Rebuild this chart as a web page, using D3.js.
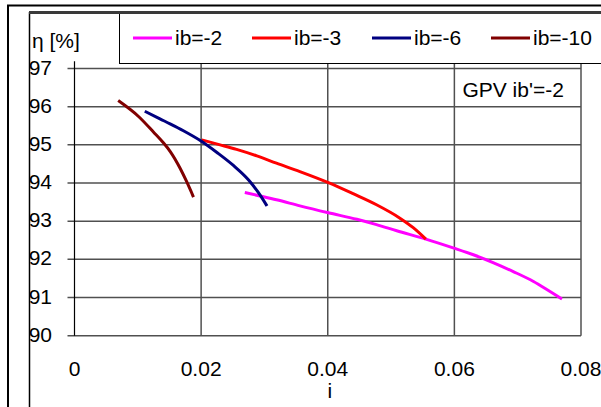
<!DOCTYPE html>
<html>
<head>
<meta charset="utf-8">
<script src="https://cdnjs.cloudflare.com/ajax/libs/d3/7.8.5/d3.min.js"></script>
<style>
  body { margin: 0; background: #fff; }
  svg { display: block; font-family: "Liberation Sans", Arial, sans-serif; }
  .grid line { stroke: #505050; stroke-width: 1.5; }
  .tick-label { font-size: 21px; fill: #000; }
</style>
</head>
<body>
<div id="chart"></div>
<script>
// series data (i, eta %)
var ib2 = [[0.0269, 93.75], [0.0293, 93.66], [0.0319, 93.56], [0.0356, 93.40], [0.0401, 93.22],
  [0.0446, 93.05], [0.0477, 92.91], [0.0509, 92.75], [0.0555, 92.53], [0.0598, 92.30],
  [0.0630, 92.12], [0.0662, 91.91], [0.0693, 91.68], [0.0725, 91.42], [0.0746, 91.21], [0.0770, 90.96]];
var ib3 = [[0.0201, 95.13], [0.0230, 95.00], [0.0256, 94.88], [0.0288, 94.71], [0.0319, 94.52],
  [0.0356, 94.30], [0.0401, 94.01], [0.0440, 93.72], [0.0477, 93.43], [0.0514, 93.08],
  [0.0535, 92.83], [0.0555, 92.53]];
var ib6 = [[0.0111, 95.88], [0.0135, 95.68], [0.0151, 95.55], [0.0172, 95.37], [0.0198, 95.12],
  [0.0225, 94.80], [0.0251, 94.46], [0.0275, 94.08], [0.0290, 93.76], [0.0304, 93.40]];
var ib10 = [[0.0069, 96.16], [0.0102, 95.73], [0.0125, 95.33], [0.0140, 95.06], [0.0151, 94.83],
  [0.0167, 94.38], [0.0177, 94.04], [0.0188, 93.63]];

var seriesNames = ["ib=-2", "ib=-3", "ib=-6", "ib=-10"];
var seriesColors = ["#ff00ff", "#ff0000", "#000080", "#800000"];
var xTicks = [0, 0.02, 0.04, 0.06, 0.08];
var yTicks = [90, 91, 92, 93, 94, 95, 96, 97];
var note = "GPV ib'=-2";

var series = [ib2, ib3, ib6, ib10];

var outerWidth = 601,
  outerHeight = 407,
  plot = { left: 74.5, right: 581, top: 68.5, bottom: 335.7 };

var svg = d3.select("#chart").append("svg")
  .attr("width", outerWidth)
  .attr("height", outerHeight);

// scales
var xScale = d3.scaleLinear().domain([0, 0.08]).range([plot.left, plot.right]);
var yScale = d3.scaleLinear().domain([90, 97]).range([plot.bottom, plot.top]);
var gridTop = yScale(97.14);

// outer frames
svg.append("rect")
  .attr("x", 8).attr("y", 5.5)
  .attr("width", 620).attr("height", 420)
  .attr("fill", "none").attr("stroke", "#000").attr("stroke-width", 2);

svg.append("line")
  .attr("x1", 29.5).attr("x2", 29.5).attr("y1", 12).attr("y2", outerHeight)
  .attr("stroke", "#000").attr("stroke-width", 1.5);
svg.append("line")
  .attr("x1", 29).attr("x2", outerWidth).attr("y1", 12.5).attr("y2", 12.5)
  .attr("stroke", "#3a3a3a").attr("stroke-width", 3);

// grid
var grid = svg.append("g").attr("class", "grid");

grid.selectAll(".h")
  .data(yTicks)
  .enter()
  .append("line")
  .attr("x1", plot.left - 7)
  .attr("x2", plot.right)
  .attr("y1", function(d) { return yScale(d); })
  .attr("y2", function(d) { return yScale(d); });

grid.selectAll(".v")
  .data(xTicks.slice(1))
  .enter()
  .append("line")
  .attr("x1", function(d) { return xScale(d); })
  .attr("x2", function(d) { return xScale(d); })
  .attr("y1", gridTop)
  .attr("y2", plot.bottom)
  .attr("stroke", function(d) { return d === 0.04 ? "#000" : null; })
  .attr("stroke-width", function(d) { return d === 0.04 ? 1.2 : null; });

// y axis line
svg.append("line")
  .attr("x1", plot.left).attr("x2", plot.left)
  .attr("y1", gridTop - 2).attr("y2", plot.bottom)
  .attr("stroke", "#000").attr("stroke-width", 1.2);

// tick labels
svg.selectAll(".ylab")
  .data(yTicks)
  .enter()
  .append("text")
  .attr("class", "tick-label")
  .attr("text-anchor", "end")
  .attr("x", 52)
  .attr("y", function(d) { return yScale(d) + 6; })
  .text(function(d) { return d; });

svg.selectAll(".xlab")
  .data(xTicks)
  .enter()
  .append("text")
  .attr("class", "tick-label")
  .attr("text-anchor", "middle")
  .attr("x", function(d) { return xScale(d); })
  .attr("y", plot.bottom + 40.5)
  .text(function(d) { return d; });

// axis titles
svg.append("text")
  .attr("class", "tick-label")
  .attr("x", 32)
  .attr("y", 48)
  .text("η [%]");

svg.append("text")
  .attr("class", "tick-label")
  .attr("text-anchor", "middle")
  .attr("x", (plot.left + plot.right) / 2 + 2)
  .attr("y", 398)
  .text("i");

svg.append("text")
  .attr("class", "tick-label")
  .attr("x", xScale(0.06) + 8)
  .attr("y", 96.5)
  .text(note);

// curves
var line = d3.line()
  .x(function(d) { return xScale(d[0]); })
  .y(function(d) { return yScale(d[1]); })
  .curve(d3.curveMonotoneX);

svg.selectAll(".curve")
  .data(series)
  .enter()
  .append("path")
  .attr("d", line)
  .attr("fill", "none")
  .attr("stroke", function(d, i) { return seriesColors[i]; })
  .attr("stroke-width", 3)
  .attr("stroke-linejoin", "round");

// legend
svg.append("rect")
  .attr("x", 119.5).attr("y", 12)
  .attr("width", 520).attr("height", 51.5)
  .attr("fill", "#fff").attr("stroke", "#000").attr("stroke-width", 1);
svg.append("line")
  .attr("x1", 119).attr("x2", outerWidth).attr("y1", 12.5).attr("y2", 12.5)
  .attr("stroke", "#3a3a3a").attr("stroke-width", 3);

var legendX = [133, 252, 372, 491];
var legend = svg.selectAll(".legend")
  .data(seriesNames)
  .enter()
  .append("g")
  .attr("transform", function(d, i) { return "translate(" + legendX[i] + ",38)"; });

legend.append("line")
  .attr("x1", 0).attr("x2", 39)
  .attr("stroke", function(d, i) { return seriesColors[i]; })
  .attr("stroke-width", 3);

legend.append("text")
  .attr("class", "tick-label")
  .attr("x", 42)
  .attr("y", 7)
  .text(function(d) { return d; });
</script>
</body>
</html>
